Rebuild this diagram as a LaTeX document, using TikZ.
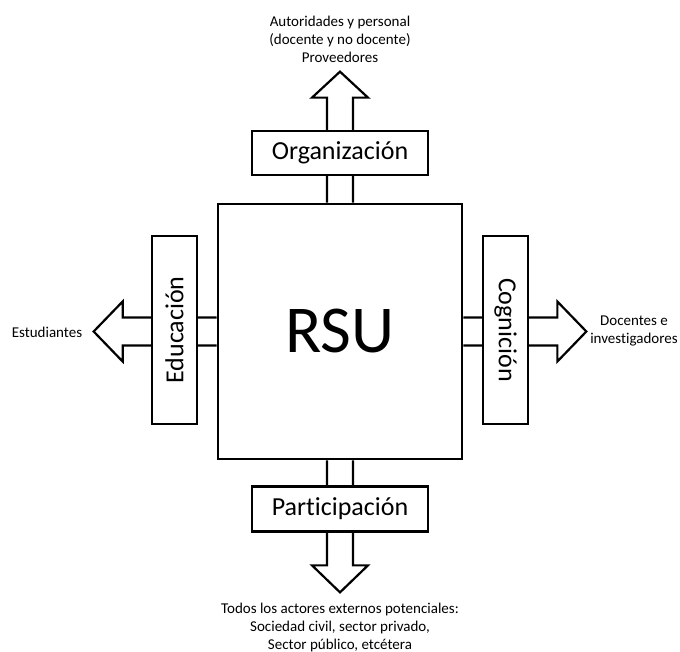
\documentclass[tikz,border=0pt]{standalone}
\usepackage{fontspec}
\setmainfont{Carlito}[Ligatures=NoCommon]
\usetikzlibrary{calc}
\begin{document}
\begin{tikzpicture}[x=1pt,y=-1pt,
  boxframe/.style={draw=black, line width=2.7pt, fill=white, inner sep=0pt},
  boxtext/.style={font=\fontsize{26}{31}\selectfont},
  fatarrow/.style={draw=black, line width=2.2pt, line join=miter},
  note/.style={font=\fontsize{15}{18}\selectfont, align=center, inner sep=0pt}]
\useasboundingbox (0,0) rectangle (680,652);

% central block
\node[boxframe, minimum width=244pt, minimum height=255pt,
      font=\fontsize{67}{80}\selectfont] (rsu) at (340,331.5) {RSU};

% block arrows leaving the four sides
\draw[fatarrow] ($(rsu.north)+(-13,0)$) -- ($(rsu.north)+(-13,-105)$)
  -- ($(rsu.north)+(-28,-105)$) -- ($(rsu.north)+(0,-131)$)
  -- ($(rsu.north)+(28,-105)$) -- ($(rsu.north)+(13,-105)$)
  -- ($(rsu.north)+(13,0)$);
\draw[fatarrow] ($(rsu.south)+(-13,0)$) -- ($(rsu.south)+(-13,105)$)
  -- ($(rsu.south)+(-28,105)$) -- ($(rsu.south)+(0,132)$)
  -- ($(rsu.south)+(28,105)$) -- ($(rsu.south)+(13,105)$)
  -- ($(rsu.south)+(13,0)$);
\draw[fatarrow] ($(rsu.west)+(0,-14)$) -- ($(rsu.west)+(-94,-14)$)
  -- ($(rsu.west)+(-94,-30)$) -- ($(rsu.west)+(-123,0)$)
  -- ($(rsu.west)+(-94,30)$) -- ($(rsu.west)+(-94,14)$)
  -- ($(rsu.west)+(0,14)$);
\draw[fatarrow] ($(rsu.east)+(0,-14)$) -- ($(rsu.east)+(94,-14)$)
  -- ($(rsu.east)+(94,-30)$) -- ($(rsu.east)+(123,0)$)
  -- ($(rsu.east)+(94,30)$) -- ($(rsu.east)+(94,14)$)
  -- ($(rsu.east)+(0,14)$);

% the four dimension boxes sit on the arrow shafts
\node[boxframe, boxtext, minimum width=176pt, minimum height=44pt] (org) at (340,153) {Organización};
\node[boxframe, boxtext, minimum width=176pt, minimum height=45pt] (par) at (340,509) {Participación};
\node[boxframe, boxtext, minimum width=188pt, minimum height=45pt, rotate=90] (edu) at (174.5,330) {Educación};
\node[boxframe, boxtext, minimum width=188pt, minimum height=45pt, rotate=-90] (cog) at (505.5,330) {Cognición};

% stakeholders
\node[note] (tnote) at (340,39) {Autoridades y personal\\(docente y no docente)\\Proveedores};
\node[note] (lnote) at (47,332) {Estudiantes};
\node[note] (rnote) at (634,331) {Docentes e\\investigadores};
\node[note] (bnote) at (340,627) {Todos los actores externos potenciales:\\Sociedad civil, sector privado,\\Sector público, etcétera};
\end{tikzpicture}
\end{document}
